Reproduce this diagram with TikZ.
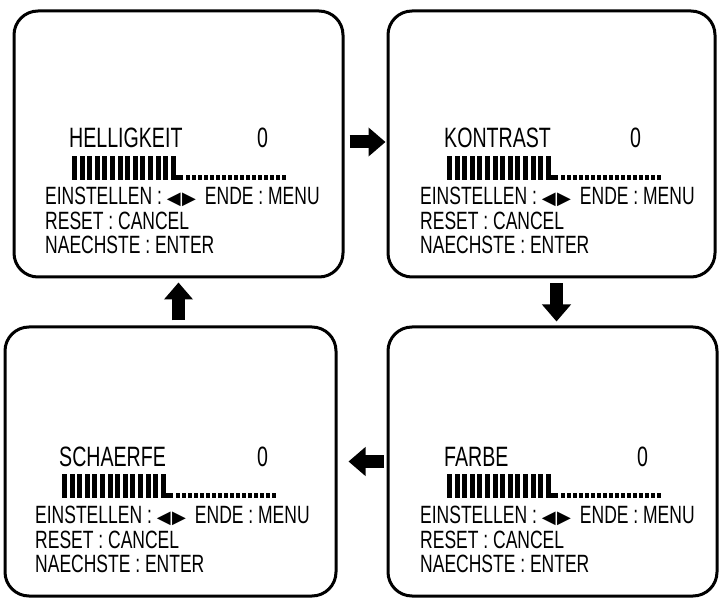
\documentclass[tikz,border=0pt]{standalone}
\usepackage{fontspec}
\setmainfont{Liberation Sans}[FakeStretch=0.7]
\newfontfamily\symfont{DejaVu Sans}
\usetikzlibrary{arrows.meta}

\begin{document}
\begin{tikzpicture}[x=1pt,y=-1pt,
    screen/.style={draw, line width=3pt, rounded corners=24pt, inner sep=0pt},
    bigarrow/.style={line width=13pt, -{Triangle[length=17pt,width=28pt]}},
    title/.style={anchor=base west, inner sep=0pt, font=\fontsize{28}{28}\selectfont},
    info/.style={anchor=base west, inner sep=0pt, font=\fontsize{25}{25}\selectfont}]
    \useasboundingbox (0,0) rectangle (723,601);
    % the four screens
    \node[screen, minimum width=329pt, minimum height=266pt] (hell) at (178.5,144) {};
    \node[screen, minimum width=327pt, minimum height=266pt] (kont) at (551.5,144) {};
    \node[screen, minimum width=331pt, minimum height=269pt] (scha) at (170.5,461.5) {};
    \node[screen, minimum width=329pt, minimum height=269pt] (farb) at (552.5,461.5) {};
    % menu texts and level bars
    \foreach \nm/\bx/\by/\ttl/\vx in {h/45/148/HELLIGKEIT/257, k/420/148/KONTRAST/630,
                                      s/35/466/SCHAERFE/257, f/420/466/FARBE/637} {
        \node[title] (\nm-name) at (\bx+24,\by) {\ttl};
        \node[title] (\nm-val) at (\vx,\by) {0};
        \foreach \i in {0,...,13}
            \fill (\bx+27+\i*7.6,\by+8) rectangle ++(5,24);
        \fill (\bx+27+13*7.6,\by+27) rectangle ++(12,5);
        \foreach \i in {0,...,16}
            \fill (\bx+141+\i*6,\by+27) rectangle ++(3.6,5);
        \node[info] (\nm-set) at (\bx,\by+57)
            {EINSTELLEN : {\symfont\fontsize{18}{18}\selectfont ◀\kern1.5pt▶}\hspace{9pt}ENDE : MENU};
        \node[info] (\nm-rst) at (\bx,\by+82) {RESET : CANCEL};
        \node[info] (\nm-nxt) at (\bx,\by+106) {NAECHSTE : ENTER};
    }
    % arrows between screens
    \draw[bigarrow, shorten <=5pt, shorten >=1pt] ([yshift=2pt]hell.east) -- ([yshift=2pt]kont.west);
    \draw[bigarrow, shorten <=5pt, shorten >=4pt] ([xshift=5pt]kont.south) -- ([xshift=5pt]kont.south |- farb.north);
    \draw[bigarrow, shorten <=3pt, shorten >=11pt] (farb.west) -- (scha.east);
    \draw[bigarrow, shorten <=5pt, shorten >=4pt] (hell.south |- scha.north) -- (hell.south);
\end{tikzpicture}
\end{document}
